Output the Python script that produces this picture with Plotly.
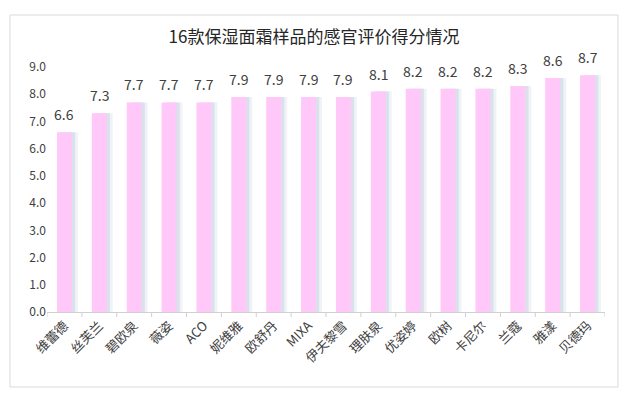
import plotly.graph_objects as go

brands = ["维蕾德", "丝芙兰", "碧欧泉", "薇姿", "ACO", "妮维雅", "欧舒丹", "MIXA",
          "伊夫黎雪", "理肤泉", "优姿婷", "欧树", "卡尼尔", "兰蔻", "雅漾", "贝德玛"]
scores = [6.6, 7.3, 7.7, 7.7, 7.7, 7.9, 7.9, 7.9, 7.9, 8.1, 8.2, 8.2, 8.2, 8.3, 8.6, 8.7]
y_ticks = [0, 1, 2, 3, 4, 5, 6, 7, 8, 9]

FONT = "Noto Sans CJK SC, Microsoft YaHei, sans-serif"
OFF = 8  # page body margin
W, H = 629 - OFF, 399 - OFF
L, T = 47 - OFF, 67 - OFF
R, B = W - (605 - OFF), H - (312 - OFF)
pw, ph = W - L - R, H - T - B

x_idx = list(range(len(brands)))
bw = 0.43

fig = go.Figure()
# soft shadow (two layers for a gradient look)
fig.add_trace(go.Bar(x=x_idx, y=scores, width=bw, offset=-bw / 2 + 0.17,
                     marker=dict(color="rgba(228,234,241,0.6)", line=dict(width=0)),
                     hoverinfo="skip", showlegend=False))
fig.add_trace(go.Bar(x=x_idx, y=scores, width=bw, offset=-bw / 2 + 0.09,
                     marker=dict(color="rgba(208,219,230,0.7)", line=dict(width=0)),
                     hoverinfo="skip", showlegend=False))
fig.add_trace(go.Bar(x=x_idx, y=scores, width=bw, offset=-bw / 2,
                     marker=dict(color="#FFC8F8", line=dict(width=0)),
                     showlegend=False))

for xi, v in zip(x_idx, scores):
    fig.add_annotation(x=xi, y=v, xref="x", yref="y", text=f"{v:.1f}",
                       showarrow=False, yanchor="bottom", yshift=6,
                       font=dict(size=14, color="#404040", family=FONT))

fig.update_layout(
    width=W, height=H, barmode="overlay",
    margin=dict(l=L, r=R, t=T, b=B, autoexpand=False),
    paper_bgcolor="white", plot_bgcolor="white",
    font=dict(family=FONT, color="#595959"),
    title=dict(text="16款保湿面霜样品的感官评价得分情况", x=(314 - OFF) / W, xanchor="center",
               y=1 - (37 - OFF) / H, yanchor="middle",
               font=dict(size=17, color="#262626", family=FONT)),
    xaxis=dict(tickmode="array", tickvals=x_idx, ticktext=brands, tickangle=-45,
               range=[-0.5, len(brands) - 0.5], automargin=False,
               showline=True, linecolor="#D0D0D0", linewidth=1,
               ticks="", showgrid=False, zeroline=False,
               tickfont=dict(size=13, color="#404040", family=FONT)),
    yaxis=dict(range=[0, 9], tickvals=y_ticks, ticktext=[f"{v:.1f}" for v in y_ticks],
               showgrid=False, zeroline=False, showline=False, automargin=False,
               tickfont=dict(size=12, color="#404040", family=FONT)),
)

# category separator tick marks on x axis
for i in range(len(brands) + 1):
    fig.add_shape(type="line", xref="x", yref="paper", x0=i - 0.5, x1=i - 0.5,
                  y0=0, y1=-5 / ph, line=dict(color="#D0D0D0", width=1))

# outer border
fig.add_shape(type="rect", xref="paper", yref="paper",
              x0=(10 - 47) / pw, x1=(618 - 47) / pw,
              y0=(312 - 387) / ph, y1=(312 - 15) / ph,
              line=dict(color="#D9D9D9", width=1), fillcolor="rgba(0,0,0,0)", layer="below")

fig.write_html("out.html")
